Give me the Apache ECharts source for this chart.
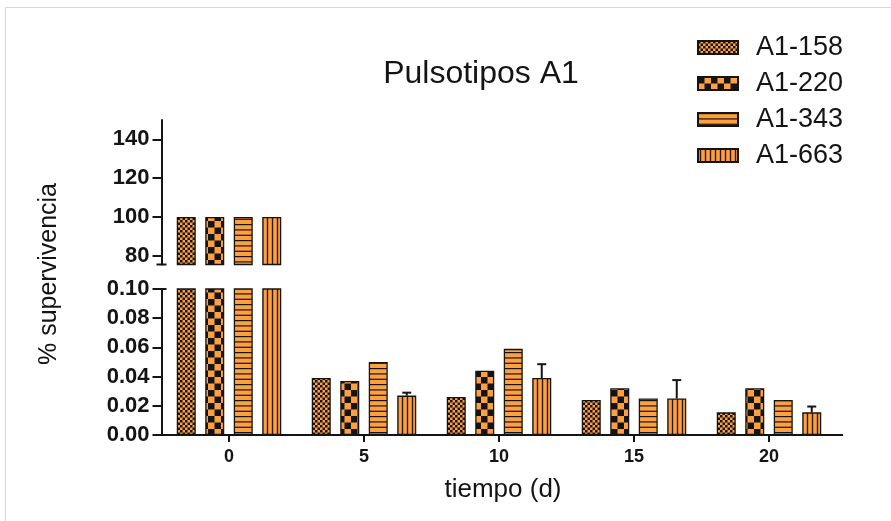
<!DOCTYPE html>
<html>
<head>
<meta charset="utf-8">
<script src="https://cdn.jsdelivr.net/npm/echarts@6/dist/echarts.min.js"></script>
<style>
  html, body { margin: 0; padding: 0; background: #ffffff; }
  #chart { width: 891px; height: 521px; }
</style>
</head>
<body>
<div id="chart"></div>
<script>
// Survival (%) of four A1 pulsotypes over time, on a broken y axis.
const categories = ['0', '5', '10', '15', '20'];
const seriesNames = ['A1-158', 'A1-220', 'A1-343', 'A1-663'];
const a158 = [100, 0.039, 0.026, 0.024, 0.0155];
const a220 = [100, 0.037, 0.044, 0.032, 0.032];
const a343 = [100, 0.050, 0.059, 0.025, 0.024];
const a663 = [100, 0.027, 0.039, 0.025, 0.0155];
const a663Err = [0, 0.002, 0.0095, 0.0126, 0.004];
const upperTicks = [80, 100, 120, 140];
const lowerTicks = [0, 0.02, 0.04, 0.06, 0.08, 0.10];

// axis ranges of the two segments
const UPPER_MIN = 75.5, UPPER_MAX = 150;
const LOWER_MIN = 0, LOWER_MAX = 0.10;

// layout
const GRID_LEFT = 161.5, GRID_WIDTH = 675;
const UP_TOP = 120, UP_HEIGHT = 144.5;
const LOW_TOP = 289, LOW_HEIGHT = 146;
const AXIS_END = 843;
const BAR_W = 19, BAR_GAP = '50%';
const FONT = '"Liberation Sans", Arial, sans-serif';
const ORANGE = '#ffa040';
const INK = '#141414';

function makePattern(w, h, draw) {
  const c = document.createElement('canvas');
  c.width = w; c.height = h;
  const g = c.getContext('2d');
  g.fillStyle = ORANGE;
  g.fillRect(0, 0, w, h);
  g.fillStyle = INK;
  g.strokeStyle = INK;
  draw(g, w, h);
  return { image: c, repeat: 'repeat' };
}

const patterns = [
  // fine checkerboard
  makePattern(5, 5, (g) => { g.fillRect(0, 0, 2.5, 2.5); g.fillRect(2.5, 2.5, 2.5, 2.5); }),
  // coarse checkerboard
  makePattern(13, 13, (g) => { g.fillRect(0, 0, 6.5, 6.5); g.fillRect(6.5, 6.5, 6.5, 6.5); }),
  // horizontal stripes
  makePattern(4, 16, (g) => {
    g.lineWidth = 1.2;
    [0.6, 5.93, 11.27].forEach((y) => { g.beginPath(); g.moveTo(0, y); g.lineTo(4, y); g.stroke(); });
  }),
  // vertical stripes
  makePattern(5, 4, (g) => {
    g.lineWidth = 1.4; g.strokeStyle = '#2a1a0a';
    g.beginPath(); g.moveTo(2.5, 0); g.lineTo(2.5, 4); g.stroke();
  })
];

const values = [a158, a220, a343, a663];

const series = [];
values.forEach((vals, i) => {
  const itemStyle = { color: patterns[i], borderColor: INK, borderWidth: 1.3 };
  series.push({
    name: seriesNames[i], type: 'bar', xAxisIndex: 0, yAxisIndex: 0,
    barWidth: BAR_W, barGap: BAR_GAP, clip: true, itemStyle,
    data: vals.map((v) => (v >= UPPER_MIN ? v : '-'))
  });
  series.push({
    name: seriesNames[i], type: 'bar', xAxisIndex: 1, yAxisIndex: 1,
    barWidth: BAR_W, barGap: BAR_GAP, clip: true, itemStyle,
    data: vals.slice()
  });
});

// upward error bars on the A1-663 bars (fourth bar of each group)
const barPitch = BAR_W * 1.5;
series.push({
  type: 'custom', xAxisIndex: 1, yAxisIndex: 1, clip: false, silent: true,
  data: a663.map((v, i) => [i, v, a663Err[i]]),
  renderItem: function (params, api) {
    const idx = api.value(0), v = api.value(1), e = api.value(2);
    if (!(e > 0) || v > LOWER_MAX) return null;
    const base = api.coord([idx, v]);
    const top = api.coord([idx, v + e]);
    const x = base[0] + barPitch * 1.5;
    const st = { stroke: INK, lineWidth: 2 };
    return {
      type: 'group',
      children: [
        { type: 'line', shape: { x1: x, y1: base[1], x2: x, y2: top[1] }, style: st },
        { type: 'line', shape: { x1: x - 4.5, y1: top[1], x2: x + 4.5, y2: top[1] }, style: st }
      ]
    };
  }
});

const axisLineStyle = { show: true, lineStyle: { color: INK, width: 2 } };
const yLabel = { color: INK, fontFamily: FONT, fontWeight: 'bold', fontSize: 22, margin: 12 };

const option = {
  animation: false,
  backgroundColor: '#ffffff',
  title: {
    text: 'Pulsotipos A1',
    left: 476, top: 53, textAlign: 'center',
    textStyle: { fontFamily: FONT, fontWeight: 'normal', fontSize: 32, color: INK }
  },
  legend: {
    orient: 'vertical', left: 692, top: 29,
    icon: 'rect',
    itemWidth: 40, itemHeight: 13, itemGap: 9,
    data: seriesNames,
    textStyle: { fontFamily: FONT, fontSize: 27, color: INK, padding: [0, 0, 0, 13] }
  },
  grid: [
    { left: GRID_LEFT, top: UP_TOP, width: GRID_WIDTH, height: UP_HEIGHT },
    { left: GRID_LEFT, top: LOW_TOP, width: GRID_WIDTH, height: LOW_HEIGHT }
  ],
  xAxis: [
    { type: 'category', gridIndex: 0, data: categories, show: false },
    {
      type: 'category', gridIndex: 1, data: categories,
      axisLine: axisLineStyle,
      axisTick: { show: true, alignWithLabel: true, length: 7, lineStyle: { color: INK, width: 2 } },
      axisLabel: { color: INK, fontFamily: FONT, fontWeight: 'bold', fontSize: 18, margin: 13 }
    }
  ],
  yAxis: [
    {
      type: 'value', gridIndex: 0, min: UPPER_MIN, max: UPPER_MAX,
      splitLine: { show: false },
      axisLine: axisLineStyle,
      axisTick: { show: true, length: 9, lineStyle: { color: INK, width: 2 }, customValues: upperTicks },
      axisLabel: Object.assign({ customValues: upperTicks }, yLabel)
    },
    {
      type: 'value', gridIndex: 1, min: LOWER_MIN, max: LOWER_MAX, interval: 0.02,
      splitLine: { show: false },
      axisLine: axisLineStyle,
      axisTick: { show: true, length: 9, lineStyle: { color: INK, width: 2 } },
      axisLabel: Object.assign({ formatter: (v) => v.toFixed(2) }, yLabel)
    }
  ],
  graphic: [
    // outer frame
    { type: 'rect', silent: true, shape: { x: 5.5, y: 7.5, width: 900, height: 530 },
      style: { fill: null, stroke: '#d6d6d6', lineWidth: 1 } },
    // x axis line runs a little past the last category
    { type: 'line', silent: true,
      shape: { x1: GRID_LEFT + GRID_WIDTH - 1, y1: LOW_TOP + LOW_HEIGHT, x2: AXIS_END, y2: LOW_TOP + LOW_HEIGHT },
      style: { stroke: INK, lineWidth: 2 } },
    // axis break caps
    { type: 'line', silent: true,
      shape: { x1: GRID_LEFT - 5, y1: UP_TOP + UP_HEIGHT, x2: GRID_LEFT + 5, y2: UP_TOP + UP_HEIGHT },
      style: { stroke: INK, lineWidth: 2 } },
    { type: 'line', silent: true,
      shape: { x1: GRID_LEFT - 5, y1: LOW_TOP, x2: GRID_LEFT + 5, y2: LOW_TOP },
      style: { stroke: INK, lineWidth: 2 } },
    // axis titles
    { type: 'text', silent: true, x: 49, y: 274, rotation: Math.PI / 2,
      style: { text: '% supervivencia', fontFamily: FONT, fontSize: 25, fill: INK,
               align: 'center', verticalAlign: 'middle' } },
    { type: 'text', silent: true, x: 503, y: 490,
      style: { text: 'tiempo (d)', fontFamily: FONT, fontSize: 26, fill: INK,
               align: 'center', verticalAlign: 'middle' } }
  ],
  series: series
};

const chart = echarts.init(document.getElementById('chart'), null, { renderer: 'canvas' });
chart.setOption(option);
</script>
</body>
</html>
